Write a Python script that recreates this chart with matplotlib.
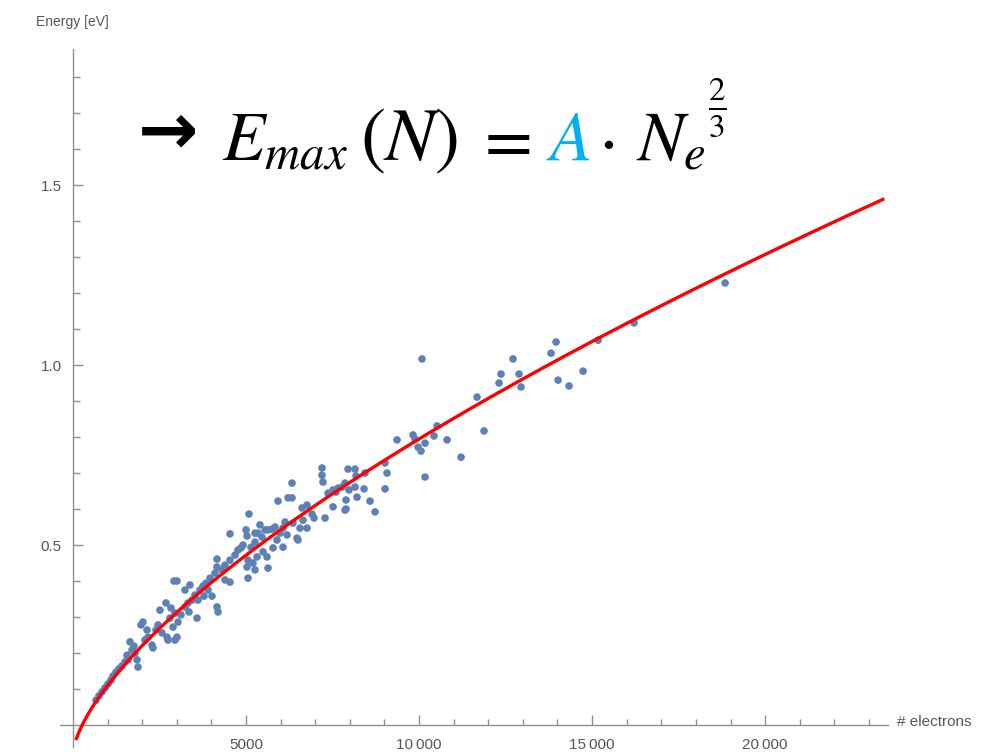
import numpy as np
import matplotlib
matplotlib.use("Agg")
from matplotlib import pyplot as plt

# measured points: number of electrons vs max energy [eV]
electrons = [665, 751, 838, 925, 1012, 1098, 1156, 1243, 1329, 1416, 1503, 1590, 1561, 1647, 1705,
             1792, 1850, 1879, 1763, 1965, 2023, 2139, 2081, 2168, 2283, 2312, 2399, 2457, 2514,
             2572, 2688, 2746, 2948, 2832, 2948, 2803, 2890, 3035, 3121, 2919, 3006, 2717, 3006,
             3237, 3324, 3439, 3352, 3584, 3526, 3670, 3613, 3757, 3844, 3786, 3959, 3902, 4017,
             4104, 4162, 4162, 4162, 4191, 4306, 4393, 4393, 4537, 4537, 4537, 4682, 4769, 4855,
             4913, 5000, 5029, 5058, 5086, 5058, 5144, 5202, 5029, 5260, 5260, 5260, 5318, 5347,
             5404, 5462, 5491, 5549, 5607, 5636, 5636, 5751, 5780, 5838, 5896, 5925, 5982, 6069,
             6069, 6127, 6185, 6214, 6329, 6329, 6358, 6474, 6502, 6560, 6618, 6647, 6763, 6763,
             6907, 6965, 7196, 7196, 7225, 7283, 7370, 7514, 7514, 7600, 7659, 7774, 7861, 7861,
             7890, 7890, 7948, 7976, 8150, 8179, 8150, 8208, 8410, 8439, 8583, 8728, 9017, 9075,
             9017, 9364, 9826, 9884, 9971, 10057, 10086, 10173, 10173, 10433, 10520, 10809, 11213,
             11676, 11878, 12311, 12369, 12716, 12889, 12947, 13814, 13959, 14017, 14334, 14739,
             15173, 16213, 18843, 3237, 3381]
energy = [0.069, 0.081, 0.092, 0.103, 0.114, 0.125, 0.136, 0.147, 0.156, 0.164, 0.175, 0.181, 0.194,
          0.231, 0.208, 0.200, 0.181, 0.161, 0.219, 0.278, 0.286, 0.264, 0.236, 0.244, 0.222, 0.214,
          0.264, 0.278, 0.319, 0.256, 0.339, 0.236, 0.236, 0.325, 0.311, 0.297, 0.272, 0.286, 0.306,
          0.400, 0.400, 0.244, 0.244, 0.328, 0.339, 0.347, 0.314, 0.297, 0.361, 0.375, 0.347, 0.386,
          0.394, 0.358, 0.408, 0.375, 0.358, 0.422, 0.461, 0.439, 0.328, 0.314, 0.431, 0.444, 0.403,
          0.458, 0.397, 0.531, 0.472, 0.486, 0.492, 0.500, 0.542, 0.525, 0.408, 0.586, 0.458, 0.494,
          0.450, 0.439, 0.533, 0.508, 0.431, 0.467, 0.533, 0.556, 0.522, 0.481, 0.542, 0.467, 0.436,
          0.542, 0.544, 0.492, 0.550, 0.514, 0.622, 0.533, 0.547, 0.494, 0.564, 0.528, 0.631, 0.631,
          0.672, 0.561, 0.519, 0.514, 0.547, 0.603, 0.569, 0.547, 0.611, 0.586, 0.575, 0.714, 0.694,
          0.675, 0.575, 0.644, 0.653, 0.606, 0.647, 0.658, 0.661, 0.672, 0.597, 0.625, 0.600, 0.711,
          0.653, 0.711, 0.692, 0.661, 0.633, 0.656, 0.700, 0.622, 0.592, 0.656, 0.700, 0.728, 0.792,
          0.806, 0.794, 0.772, 0.761, 1.017, 0.689, 0.783, 0.803, 0.831, 0.792, 0.744, 0.911, 0.817,
          0.950, 0.975, 1.017, 0.975, 0.939, 1.033, 1.064, 0.958, 0.942, 0.983, 1.069, 1.117, 1.228,
          0.375, 0.389]

# fit E = A * N^(2/3) + B
A = 0.00188
B = -0.078
fit_n = np.linspace(100, 23400, 400)
fit_e = A * fit_n ** (2 / 3) + B

x_major = [5000, 10000, 15000, 20000]
x_major_labels = ["5000", "10\u2009000", "15\u2009000", "20\u2009000"]
y_major = [0.5, 1.0, 1.5]
y_major_labels = ["0.5", "1.0", "1.5"]

plt.rcParams["font.family"] = ["Liberation Sans", "DejaVu Sans"]
plt.rcParams["mathtext.fontset"] = "stix"

fig = plt.figure(figsize=(10.05, 7.55), dpi=100)
ax = fig.add_axes([60 / 1005, (755 - 746.6) / 755, 828 / 1005, 697.6 / 755])
ax.set_xlim(-375, 23550)
ax.set_ylim(-0.06, 1.878)

ax.scatter(electrons, energy, s=30, color="#5E81B5", edgecolors="none", zorder=3)
ax.plot(fit_n, fit_e, color="red", lw=2.4, zorder=4)

axis_grey = "#8f8f8f"
for side in ["top", "right"]:
    ax.spines[side].set_visible(False)
ax.spines["left"].set_position(("data", 0))
ax.spines["bottom"].set_position(("data", 0))
for side in ["left", "bottom"]:
    ax.spines[side].set_color(axis_grey)
    ax.spines[side].set_linewidth(1.0)

ax.set_xticks(x_major)
ax.set_xticklabels(x_major_labels)
ax.set_xticks(np.arange(1000, 23001, 1000), minor=True)
ax.set_yticks(y_major)
ax.set_yticklabels(y_major_labels)
ax.set_yticks(np.arange(0.1, 1.81, 0.1), minor=True)
ax.tick_params(axis="x", which="major", direction="in", length=7, width=1, color=axis_grey,
               labelsize=11, labelcolor="#555555", pad=9)
ax.tick_params(axis="x", which="minor", direction="in", length=4, width=1, color=axis_grey)
ax.tick_params(axis="y", which="major", direction="in", length=7, width=1, color=axis_grey,
               labelsize=11, labelcolor="#555555", pad=8)
ax.tick_params(axis="y", which="minor", direction="in", length=5, width=1, color=axis_grey)

fig.text(72 / 1005, 1 - 22 / 755, "Energy [eV]", ha="center", va="center", fontsize=10,
         color="#555555")
fig.text(897 / 1005, 1 - 722 / 755, "# electrons", ha="left", va="center", fontsize=11,
         color="#555555")

# formula
base = 1 - 160 / 755
fig.text(138 / 1005, 1 - 134 / 755, "\u2192", ha="left", va="center", fontsize=52,
         fontweight="bold", family="DejaVu Sans")
fig.text(222 / 1005, base, r"$E_{max}$", ha="left", va="baseline", fontsize=50)
fig.text(360 / 1005, base, r"$(N)$", ha="left", va="baseline", fontsize=54)
fig.text(474 / 1005, base, r"$=$", ha="left", va="baseline", fontsize=50)
fig.text(546 / 1005, base, r"$A$", ha="left", va="baseline", fontsize=50, color="#00B0F0")
fig.text(598 / 1005, base, r"$\cdot$", ha="left", va="baseline", fontsize=50)
fig.text(636 / 1005, base, r"$N_e$", ha="left", va="baseline", fontsize=50)
fig.text(708 / 1005, 1 - 108 / 755, r"$\frac{2}{3}$", ha="left", va="center", fontsize=34)

plt.savefig("out.png", dpi=100)
